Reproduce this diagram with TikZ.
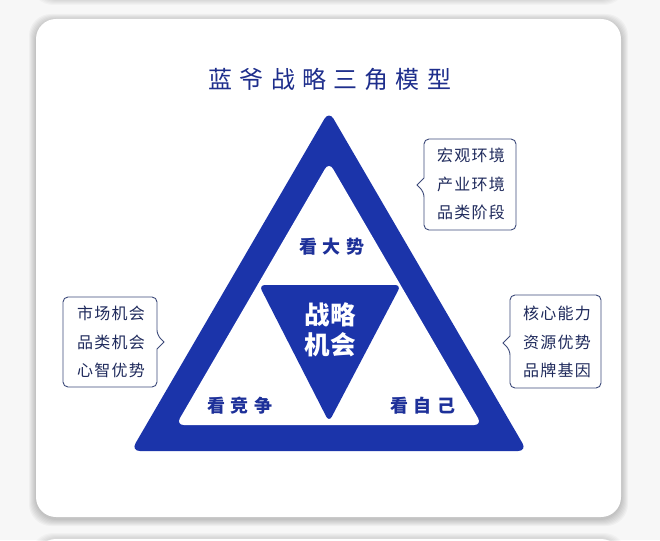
\documentclass[tikz,border=0pt]{standalone}
\usepackage{fontspec}
\newfontfamily\cjk{Noto Sans CJK SC}
\newfontfamily\cjktitle[LetterSpace=30]{Noto Sans CJK SC}
\newfontfamily\cjklab[LetterSpace=32]{Noto Sans CJK SC}
\newfontfamily\cjkbox[LetterSpace=8]{Noto Sans CJK SC}
\definecolor{bgc}{HTML}{F7F7F7}
\definecolor{triblue}{HTML}{1B34AA}
\definecolor{titleblue}{HTML}{1E2E8C}
\definecolor{labblue}{HTML}{1D3099}
\definecolor{boxtext}{HTML}{1F2A5C}
\definecolor{boxline}{HTML}{3D4A7A}
\tikzset{
  callout/.style={draw=boxline, line width=0.9pt, fill=white},
  boxtxt/.style={text=boxtext, align=center, font=\cjkbox\fontsize{16}{28.8}\selectfont, inner sep=0pt},
  lab/.style={text=labblue, font=\cjklab\bfseries\fontsize{18}{20}\selectfont, inner sep=0pt},
}
\begin{document}
\begin{tikzpicture}[x=1pt,y=-1pt]
\useasboundingbox (0,0) rectangle (660,540);
\fill[bgc] (0,0) rectangle (660,540);
% neighbouring cards (top and bottom edges)
\foreach \i in {1,...,5} {
  \fill[black,opacity=0.025,rounded corners=22pt] (36-\i,-60) rectangle (621+\i,0+\i);
  \fill[black,opacity=0.025,rounded corners=22pt] (36-\i,538-\i) rectangle (621+\i,600);
}
\fill[white,rounded corners=20pt] (36,-60) rectangle (621,-1);
\fill[white,rounded corners=20pt] (36,539) rectangle (621,600);
% card shadow
\foreach \i in {1,...,7} {
  \fill[black,opacity=0.03,rounded corners=22pt] (36-\i,19-\i+2) rectangle (621+\i,517+\i+2);
}
\fill[white,rounded corners=20pt] (36,19) rectangle (621,517);
% title
\node[text=titleblue, font=\cjktitle\fontsize{24}{28}\selectfont, inner sep=0pt] (title) at (330,79) {蓝爷战略三角模型};
% triangles
\fill[triblue, rounded corners=9pt] (329,111) -- (131,451) -- (527,451) -- cycle;
\fill[white, rounded corners=8pt] (329,162) -- (176,425) -- (482,425) -- cycle;
\fill[triblue, rounded corners=6pt] (259,285) -- (401,285) -- (329,422) -- cycle;
% labels
\node[lab] (top) at (332,247) {看大势};
\node[lab] (left) at (240,406) {看竞争};
\node[lab] (right) at (423,406) {看自己};
\node[text=white, align=center, font=\cjk\bfseries\fontsize{25.5}{30}\selectfont, inner sep=0pt] (core) at (330,330) {战略\\机会};
% callouts
\draw[callout, rounded corners=5pt] (470,139) -- (516,139) -- (516,230) -- (424,230) -- (424,192) [sharp corners] -- (417,185) -- (424,178) [rounded corners=5pt] -- (424,139) -- cycle;
\node[boxtxt] (tr) at (471,184) {宏观环境\\产业环境\\品类阶段};
\draw[callout, rounded corners=5pt] (110,297) -- (157,297) -- (157,335) [sharp corners] -- (164,342) -- (157,349) [rounded corners=5pt] -- (157,387) -- (63,387) -- (63,297) -- cycle;
\node[boxtxt] (lt) at (111,342) {市场机会\\品类机会\\心智优势};
\draw[callout, rounded corners=5pt] (556,295) -- (601,295) -- (601,388) -- (510,388) -- (510,350) [sharp corners] -- (503,343) -- (510,336) [rounded corners=5pt] -- (510,295) -- cycle;
\node[boxtxt] (rt) at (557,342) {核心能力\\资源优势\\品牌基因};
\end{tikzpicture}
\end{document}
